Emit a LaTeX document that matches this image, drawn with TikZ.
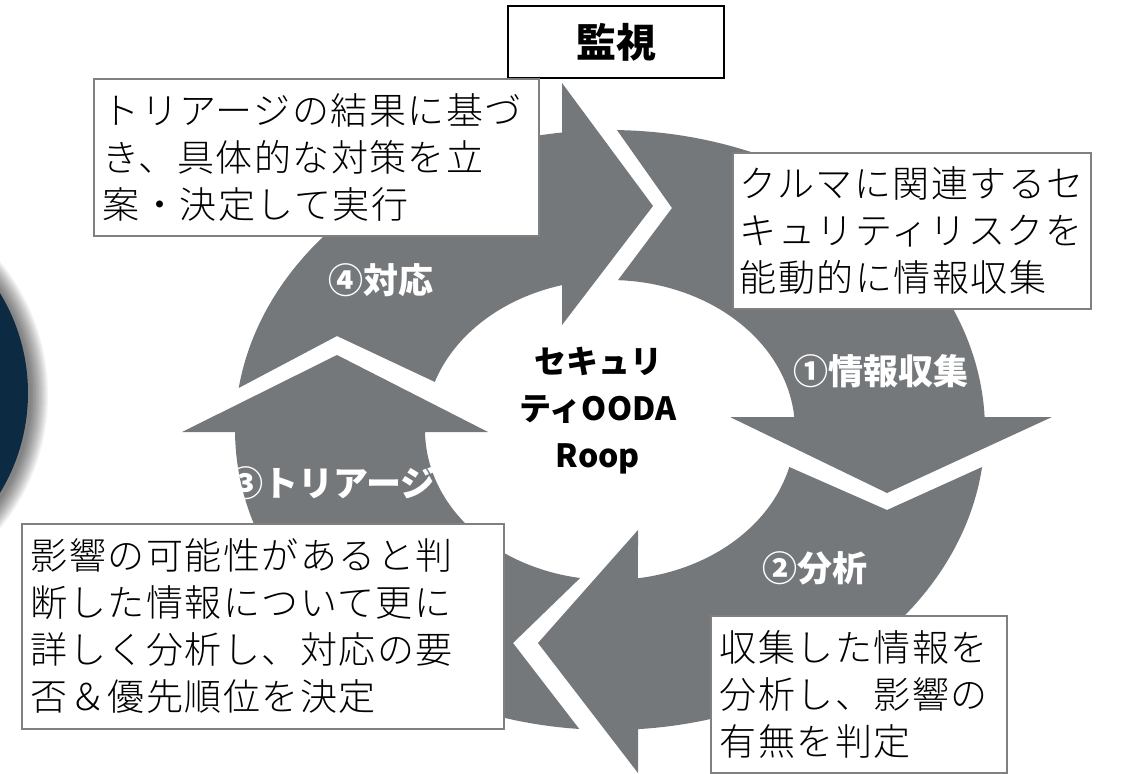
\documentclass[tikz,border=0pt]{standalone}
\usepackage{fontspec}
\setmainfont{Noto Sans CJK JP}
\newfontfamily\jpbox{Noto Sans CJK JP}[UprightFont=* Light, LetterSpace=4]
\definecolor{ringgray}{RGB}{117,120,123}
\definecolor{navyc}{RGB}{12,42,66}
\definecolor{boxgray}{RGB}{128,128,128}
\tikzset{
  ringpart/.style={fill=ringgray},
  infobox/.style={draw=boxgray, line width=1.5pt, fill=white, anchor=north west,
    align=left, inner xsep=9pt, inner ysep=0pt,
    font=\jpbox\fontsize{37}{47}\selectfont},
  steplabel/.style={text=white, inner sep=0pt, font=\bfseries\fontsize{35}{40}\selectfont},
}
\begin{document}
\begin{tikzpicture}[x=1pt,y=-1pt]
\useasboundingbox (0,0) rectangle (1141,774);
\fill[white] (0,0) rectangle (1141,774);
% navy disc with soft shadow
\foreach \i in {1,...,12}
  \fill[black,opacity=0.05] (-162,395) circle[radius=192pt+1.5pt*\i];
\fill[navyc] (-164,393) circle[radius=192pt];
% ring arrows
% 4 (top-left -> top)
\fill[ringpart] plot[domain=171.95:97.35,samples=60] ({610+375*cos(\x)},{430-300*sin(\x)})
  -- (562,83) -- (653,206) -- (562,325)
  -- plot[domain=105.04:161.3,samples=40] ({610+185*cos(\x)},{430-150*sin(\x)})
  -- (337,336) -- cycle;
% 1 (top -> right)
\fill[ringpart] plot[domain=88.93:2.48,samples=60] ({610+375*cos(\x)},{430-300*sin(\x)})
  -- (1052,417) -- (887,493) -- (730,417)
  -- plot[domain=4.97:87.52,samples=40] ({610+185*cos(\x)},{430-150*sin(\x)})
  -- (672,208) -- cycle;
% 2 (right -> bottom)
\fill[ringpart] plot[domain=-7.08:-85.7,samples=60] ({610+375*cos(\x)},{430-300*sin(\x)})
  -- (638,773) -- (538,643) -- (638,530)
  -- plot[domain=-81.3:-14.28,samples=40] ({610+185*cos(\x)},{430-150*sin(\x)})
  -- (887,510) -- cycle;
% 3 (bottom -> left)
\fill[ringpart] plot[domain=-94.7:-179.6,samples=60] ({610+375*cos(\x)},{430-300*sin(\x)})
  -- (182,432) -- (337,355) -- (488,432)
  -- plot[domain=-179.2:-99.3,samples=40] ({610+185*cos(\x)},{430-150*sin(\x)})
  -- (513,643) -- cycle;
% centre text
\node[font=\bfseries\fontsize{32}{47}\selectfont, align=center, inner sep=0pt] (core) at (598,411) {セキュリ\\ティOODA\\Roop};
% step labels
\node[steplabel] (s4) at (381,280) {④対応};
\node[steplabel] (s1) at (881,371) {①情報収集};
\node[steplabel] (s2) at (815,568) {②分析};
\node[steplabel] (s3) at (332,483) {③トリアージ};
% title box
\node[draw=black, line width=2.5pt, fill=white, minimum width=216pt, minimum height=72pt, inner sep=0pt,
  font=\bfseries\fontsize{40}{48}\selectfont] (watch) at (616,42) {監視};
% info boxes
\node[infobox, text width=427pt, minimum height=157pt] (plan) at (93,78)
  {トリアージの結果に基づ\\き、具体的な対策を立\\案・決定して実行};
\node[infobox, inner xsep=7pt, text width=344pt, minimum height=156pt] (collect) at (732,152)
  {クルマに関連するセ\\キュリティリスクを\\能動的に情報収集};
\node[infobox, text width=464pt, minimum height=205pt] (triage) at (21,523)
  {影響の可能性があると判\\断した情報について更に\\詳しく分析し、対応の要\\否＆優先順位を決定};
\node[infobox, text width=278pt, minimum height=157pt] (analyse) at (710,615)
  {収集した情報を\\分析し、影響の\\有無を判定};
\end{tikzpicture}
\end{document}
